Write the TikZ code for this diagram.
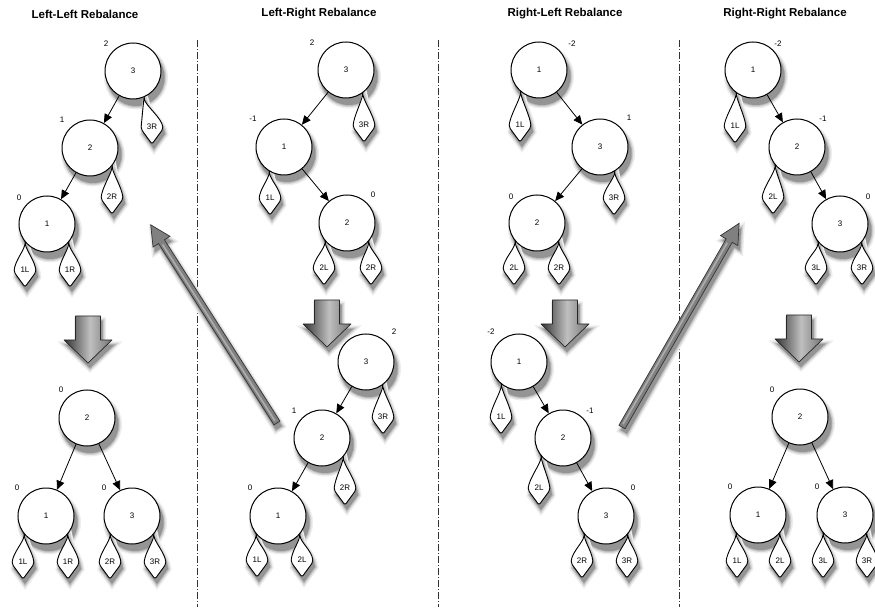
\documentclass[tikz,border=0pt]{standalone}
\usepackage{fontspec}
\setmainfont{Liberation Sans}
\usetikzlibrary{arrows.meta,calc,backgrounds}
\pgfdeclarelayer{shadow}
\pgfsetlayers{shadow,background,main}

% a tree node with its shadow: name, position, text
\newcommand{\avlnode}[3]{%
  \begin{pgfonlayer}{shadow}
    \path[castshadow] ($#2+(3,6.5)$) circle[radius=28.5pt];
  \end{pgfonlayer}
  \node[treenode] (#1) at #2 {#3};}
% outline of a subtree drop: top point on the parent, label position
\newcommand{\dropoutline}[2]{#1 .. controls ($#1+(-1,8)$) and ($#2+(-10,-9)$) .. ($#2+(-11,2)$)
  -- ($#2+(0,17)$) -- ($#2+(11,2)$)
  .. controls ($#2+(10,-9)$) and ($#1+(1,8)$) .. #1 -- cycle}
% a subtree drop: name, top point, label position, text
\newcommand{\subtree}[4]{%
  \begin{pgfonlayer}{shadow}
    \path ($#2+(2,5)$) coordinate (sdtop) ($#3+(2,5)$) coordinate (sdlbl);
    \path[castshadow] \dropoutline{(sdtop)}{(sdlbl)};
  \end{pgfonlayer}
  \begin{pgfonlayer}{background}
    \path[leaf] \dropoutline{#2}{#3};
  \end{pgfonlayer}
  \node[leaflabel] (#1) at #3 {#4};}

\begin{document}
\begin{tikzpicture}[x=1pt,y=-1pt,>={Triangle[length=9pt,width=8pt]},
    font=\fontsize{8}{9.5}\selectfont,
    castshadow/.style={line join=round,
      preaction={draw=black!7,line width=7pt},
      preaction={draw=black!18,line width=4pt},
      preaction={draw=black!30,line width=1.5pt},
      fill=black!42},
    treenode/.style={circle,draw,fill=white,line width=1pt,minimum size=56pt,inner sep=0pt},
    balance/.style={inner sep=0pt},
    leaf/.style={draw,fill=white,line width=0.9pt,rounded corners=2pt},
    leaflabel/.style={inner sep=0pt},
    title/.style={font=\fontsize{11.5}{13}\selectfont\bfseries},
    divider/.style={draw=black!80,line width=0.7pt,dash pattern=on 7pt off 2pt on 1pt off 2pt},
    bigdown/.pic={
      \path[castshadow,shift={(2,5)}] (-12.5,0) -- (12.5,0) -- (12.5,24) -- (24,24) -- (0,47)
        -- (-24,24) -- (-12.5,24) -- cycle;
      \begin{scope}
        \clip (-12.5,0) -- (12.5,0) -- (12.5,24) -- (24,24) -- (0,47)
          -- (-24,24) -- (-12.5,24) -- cycle;
        \foreach \i in {-24,...,23} {
          \pgfmathsetmacro\shade{\i<2 ? 80-(\i+24)*55/26 : 25+(\i-2)*30/22}
          \fill[black!\shade] (\i,-1) rectangle (\i+1.3,48);
        }
      \end{scope}
      \draw[black!85,line width=0.7pt,line join=round] (-12.5,0) -- (12.5,0) -- (12.5,24) -- (24,24) -- (0,47)
        -- (-24,24) -- (-12.5,24) -- cycle;},
    bigdiag/.pic={
      \path[castshadow,shift={(#1)}] (0,-3.5) -- (215,-3.5) -- (215,-10) -- (235,0) -- (215,10)
        -- (215,3.5) -- (0,3.5) -- cycle;
      \path[draw=black!80,fill=black!50,line width=0.7pt] (0,-3.5) -- (215,-3.5) -- (215,-10) -- (235,0) -- (215,10)
        -- (215,3.5) -- (0,3.5) -- cycle;
      \draw[black!32,line width=1.6pt] (3,-0.6) -- (212,-0.6);}]
  \useasboundingbox (0,0) rectangle (875,609);

  % titles and dividers
  \node[title] (t1) at (85,14) {Left-Left Rebalance};
  \node[title] (t2) at (319,14) {Left-Right Rebalance};
  \node[title] (t3) at (565,14) {Right-Left Rebalance};
  \node[title] (t4) at (785,14) {Right-Right Rebalance};
  \foreach \x in {197,438,679}
    \path[divider] (\x,40) -- (\x,607);

  % Left-Left
  \avlnode{ll3}{(133,71)}{3}
  \avlnode{ll2}{(90,148)}{2}
  \avlnode{ll1}{(47,224)}{1}
  \node[balance] (llb3) at (106,44) {2};
  \node[balance] (llb2) at (62,120) {1};
  \node[balance] (llb1) at (19,198) {0};
  \subtree{ll3R}{(ll3.-67)}{(152,127)}{3R}
  \subtree{ll2R}{(ll2.-39)}{(112,197)}{2R}
  \subtree{ll1L}{(ll1.-140)}{(25,270)}{1L}
  \subtree{ll1R}{(ll1.-40)}{(70,270)}{1R}
  \path[->,line width=0.8pt]
    (ll3) edge (ll2)
    (ll2) edge (ll1);

  \pic at (88,316) {bigdown};

  \avlnode{llr2}{(87,418)}{2}
  \avlnode{llr1}{(46,516)}{1}
  \avlnode{llr3}{(132,516)}{3}
  \node[balance] (llrb2) at (61,390) {0};
  \node[balance] (llrb1) at (17,488) {0};
  \node[balance] (llrb3) at (104,488) {0};
  \subtree{llr1L}{(llr1.-140)}{(23,562)}{1L}
  \subtree{llr1R}{(llr1.-40)}{(68,562)}{1R}
  \subtree{llr2R}{(llr3.-140)}{(110,562)}{2R}
  \subtree{llr3R}{(llr3.-40)}{(155,562)}{3R}
  \path[->,line width=0.8pt]
    (llr2) edge (llr1)
    (llr2) edge (llr3);

  % Left-Right
  \avlnode{lr3}{(346,70)}{3}
  \avlnode{lr1}{(284,147)}{1}
  \avlnode{lr2}{(347,223)}{2}
  \node[balance] (lrb3) at (312,43) {2};
  \node[balance] (lrb1) at (253,119) {-1};
  \node[balance] (lrb2) at (373,195) {0};
  \subtree{lr3R}{(lr3.-54)}{(364,125)}{3R}
  \subtree{lr1L}{(lr1.-121)}{(270,198)}{1L}
  \subtree{lr2L}{(lr2.-140)}{(324,268)}{2L}
  \subtree{lr2R}{(lr2.-40)}{(371,268)}{2R}
  \path[->,line width=0.8pt]
    (lr3) edge (lr1)
    (lr1) edge (lr2);

  \pic at (327,300) {bigdown};

  \avlnode{lrr3}{(366,362)}{3}
  \avlnode{lrr2}{(322,438)}{2}
  \avlnode{lrr1}{(278,516)}{1}
  \node[balance] (lrrb3) at (394,332) {2};
  \node[balance] (lrrb2) at (294,411) {1};
  \node[balance] (lrrb1) at (250,488) {0};
  \subtree{lrr3R}{(lrr3.-54)}{(383,417)}{3R}
  \subtree{lrr2R}{(lrr2.-42)}{(345,488)}{2R}
  \subtree{lrr1L}{(lrr1.-140)}{(257,560)}{1L}
  \subtree{lrr2L}{(lrr1.-40)}{(302,560)}{2L}
  \path[->,line width=0.8pt]
    (lrr3) edge (lrr2)
    (lrr2) edge (lrr1);

  % Right-Left
  \avlnode{rl1}{(539,70)}{1}
  \avlnode{rl3}{(600,147)}{3}
  \avlnode{rl2}{(537,223)}{2}
  \node[balance] (rlb1) at (572,44) {-2};
  \node[balance] (rlb3) at (629,118) {1};
  \node[balance] (rlb2) at (511,197) {0};
  \subtree{rl1L}{(rl1.-130)}{(520,125)}{1L}
  \subtree{rl3R}{(rl3.-59)}{(614,198)}{3R}
  \subtree{rl2L}{(rl2.-140)}{(514,268)}{2L}
  \subtree{rl2R}{(rl2.-40)}{(559,268)}{2R}
  \path[->,line width=0.8pt]
    (rl1) edge (rl3)
    (rl3) edge (rl2);

  \pic at (565,300) {bigdown};

  \avlnode{rlr1}{(519,362)}{1}
  \avlnode{rlr2}{(563,438)}{2}
  \avlnode{rlr3}{(606,516)}{3}
  \node[balance] (rlrb1) at (491,332) {-2};
  \node[balance] (rlrb2) at (590,411) {-1};
  \node[balance] (rlrb3) at (633,488) {0};
  \subtree{rlr1L}{(rlr1.-128)}{(501,417)}{1L}
  \subtree{rlr2L}{(rlr2.-140)}{(539,488)}{2L}
  \subtree{rlr2R}{(rlr3.-140)}{(582,561)}{2R}
  \subtree{rlr3R}{(rlr3.-40)}{(627,561)}{3R}
  \path[->,line width=0.8pt]
    (rlr1) edge (rlr2)
    (rlr2) edge (rlr3);

  % Right-Right
  \avlnode{rr1}{(753,70)}{1}
  \avlnode{rr2}{(797,147)}{2}
  \avlnode{rr3}{(840,224)}{3}
  \node[balance] (rrb1) at (778,44) {-2};
  \node[balance] (rrb2) at (823,119) {-1};
  \node[balance] (rrb3) at (868,197) {0};
  \subtree{rr1L}{(rr1.-126)}{(735,126)}{1L}
  \subtree{rr2L}{(rr2.-140)}{(773,197)}{2L}
  \subtree{rr3L}{(rr3.-140)}{(816,268)}{3L}
  \subtree{rr3R}{(rr3.-40)}{(862,268)}{3R}
  \path[->,line width=0.8pt]
    (rr1) edge (rr2)
    (rr2) edge (rr3);

  \pic at (799,315) {bigdown};

  \avlnode{rrr2}{(800,417)}{2}
  \avlnode{rrr1}{(758,515)}{1}
  \avlnode{rrr3}{(845,515)}{3}
  \node[balance] (rrrb2) at (772,390) {0};
  \node[balance] (rrrb1) at (730,487) {0};
  \node[balance] (rrrb3) at (817,487) {0};
  \subtree{rrr1L}{(rrr1.-140)}{(737,561)}{1L}
  \subtree{rrr2L}{(rrr1.-40)}{(780,561)}{2L}
  \subtree{rrr3L}{(rrr3.-140)}{(823,561)}{3L}
  \subtree{rrr3R}{(rrr3.-40)}{(867,561)}{3R}
  \path[->,line width=0.8pt]
    (rrr2) edge (rrr1)
    (rrr2) edge (rrr3);

  % double rotations lead back to single ones
  \pic[rotate=122.5] at (277,423) {bigdiag={-5.3,-1}};
  \pic[rotate=60.1] at (622,427) {bigdiag={-3.3,4.2}};
\end{tikzpicture}
\end{document}
